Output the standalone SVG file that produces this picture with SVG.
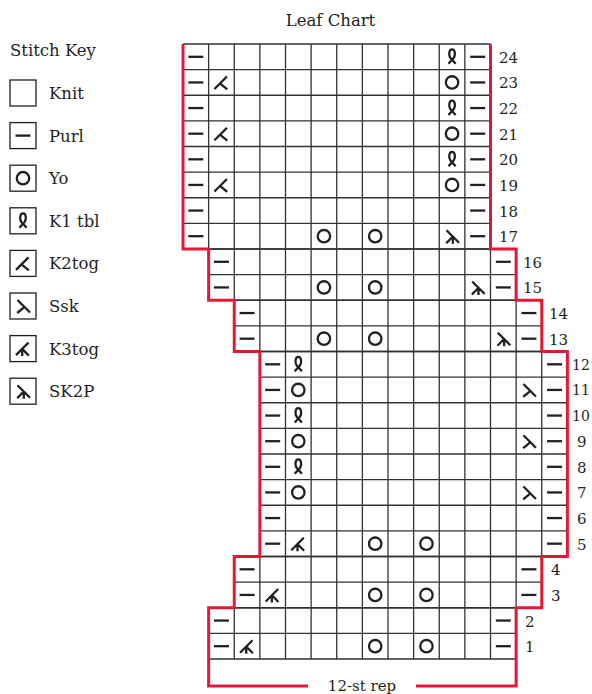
<svg xmlns="http://www.w3.org/2000/svg" xmlns:xlink="http://www.w3.org/1999/xlink" width="592" height="694" viewBox="0 0 592 694">
<style>
.t{font-family:"DejaVu Serif","Liberation Serif",serif;fill:#231f20}
.key{font-size:16.5px}
.num{font-size:15px}
.nsm{font-size:14px}
.grid{fill:none;stroke:#333;stroke-width:1.3}
.red{fill:none;stroke:#e31837;stroke-width:3}
.sym{fill:none;stroke:#231f20;stroke-width:2.3}
.box{fill:#fff;stroke:#231f20;stroke-width:1.3}
</style>
<defs>
<path id="purl" class="sym" d="M-7.5 0H7.5" stroke-width="2.7"/>
<circle id="yo" class="sym" r="6.2" stroke-width="2.4"/>
<path id="tbl" class="sym" stroke-width="2" d="M-3.6 7L1.6 1.2C3.6 -1.5 3.2 -7.5 0 -7.5C-3.2 -7.5 -3.6 -1.5 -1.6 1.2L3.6 7"/>
<path id="k2tog" class="sym" d="M-7 6.5L5.5 -6M-1.2 1.2L5.8 7"/>
<path id="ssk" class="sym" d="M7 6.5L-5.5 -6M1.2 1.2L-5.8 7"/>
<path id="k3tog" class="sym" d="M-7 6.5L5.5 -6M-0.8 0.3L5.8 7M-0.8 0.3V7.5"/>
<path id="sk2p" class="sym" d="M7 6.5L-5.5 -6M0.8 0.3L-5.8 7M0.8 0.3V7.5"/>
</defs>

<text class="t key" x="330.5" y="26" text-anchor="middle">Leaf Chart</text>

<g id="key">
<text class="t key" x="10" y="56">Stitch Key</text>
<g id="key-knit"><rect class="box" x="10" y="80" width="26" height="26"/><text class="t key" x="49" y="99">Knit</text></g>
<g id="key-purl"><rect class="box" x="10" y="122.6" width="26" height="26"/><use xlink:href="#purl" x="23" y="135.6"/><text class="t key" x="49" y="141.6">Purl</text></g>
<g id="key-yo"><rect class="box" x="10" y="165.2" width="26" height="26"/><use xlink:href="#yo" x="23" y="178.2"/><text class="t key" x="49" y="184.2">Yo</text></g>
<g id="key-tbl"><rect class="box" x="10" y="207.8" width="26" height="26"/><use xlink:href="#tbl" x="23" y="220.8"/><text class="t key" x="49" y="226.8">K1 tbl</text></g>
<g id="key-k2tog"><rect class="box" x="10" y="250.4" width="26" height="26"/><use xlink:href="#k2tog" x="23" y="263.4"/><text class="t key" x="49" y="269.4">K2tog</text></g>
<g id="key-ssk"><rect class="box" x="10" y="293" width="26" height="26"/><use xlink:href="#ssk" x="23" y="306"/><text class="t key" x="49" y="312">Ssk</text></g>
<g id="key-k3tog"><rect class="box" x="10" y="335.6" width="26" height="26"/><use xlink:href="#k3tog" x="23" y="348.6"/><text class="t key" x="49" y="354.6">K3tog</text></g>
<g id="key-sk2p"><rect class="box" x="10" y="378.2" width="26" height="26"/><use xlink:href="#sk2p" x="23" y="391.2"/><text class="t key" x="49" y="397.2">SK2P</text></g>
</g>

<g id="grid">
<path class="grid" d="M183 44v205m25.625-205v205m25.625-205v205m25.625-205v205m25.625-205v205m25.625-205v205m25.625-205v205m25.625-205v205m25.625-205v205m25.625-205v205m25.625-205v205m25.625-205v205m25.625-205v205
M183 44h307.5m-307.5 25.625h307.5m-307.5 25.625h307.5m-307.5 25.625h307.5m-307.5 25.625h307.5m-307.5 25.625h307.5m-307.5 25.625h307.5m-307.5 25.625h307.5m-307.5 25.625h307.5"/>
<path class="grid" d="M208.625 249v51.25m25.625-51.25v51.25m25.625-51.25v51.25m25.625-51.25v51.25m25.625-51.25v51.25m25.625-51.25v51.25m25.625-51.25v51.25m25.625-51.25v51.25m25.625-51.25v51.25m25.625-51.25v51.25m25.625-51.25v51.25m25.625-51.25v51.25m25.625-51.25v51.25
M208.625 249h307.5m-307.5 25.625h307.5m-307.5 25.625h307.5"/>
<path class="grid" d="M234.25 300.25v51.25m25.625-51.25v51.25m25.625-51.25v51.25m25.625-51.25v51.25m25.625-51.25v51.25m25.625-51.25v51.25m25.625-51.25v51.25m25.625-51.25v51.25m25.625-51.25v51.25m25.625-51.25v51.25m25.625-51.25v51.25m25.625-51.25v51.25m25.625-51.25v51.25
M234.25 300.25h307.5m-307.5 25.625h307.5m-307.5 25.625h307.5"/>
<path class="grid" d="M259.875 351.5v205m25.625-205v205m25.625-205v205m25.625-205v205m25.625-205v205m25.625-205v205m25.625-205v205m25.625-205v205m25.625-205v205m25.625-205v205m25.625-205v205m25.625-205v205m25.625-205v205
M259.875 351.5h307.5m-307.5 25.625h307.5m-307.5 25.625h307.5m-307.5 25.625h307.5m-307.5 25.625h307.5m-307.5 25.625h307.5m-307.5 25.625h307.5m-307.5 25.625h307.5m-307.5 25.625h307.5"/>
<path class="grid" d="M234.25 556.5v51.25m25.625-51.25v51.25m25.625-51.25v51.25m25.625-51.25v51.25m25.625-51.25v51.25m25.625-51.25v51.25m25.625-51.25v51.25m25.625-51.25v51.25m25.625-51.25v51.25m25.625-51.25v51.25m25.625-51.25v51.25m25.625-51.25v51.25m25.625-51.25v51.25
M234.25 556.5h307.5m-307.5 25.625h307.5m-307.5 25.625h307.5"/>
<path class="grid" d="M208.625 607.75v51.25m25.625-51.25v51.25m25.625-51.25v51.25m25.625-51.25v51.25m25.625-51.25v51.25m25.625-51.25v51.25m25.625-51.25v51.25m25.625-51.25v51.25m25.625-51.25v51.25m25.625-51.25v51.25m25.625-51.25v51.25m25.625-51.25v51.25m25.625-51.25v51.25
M208.625 607.75h307.5m-307.5 25.625h307.5m-307.5 25.625h307.5"/>
</g>

<g id="stitches">
<use xlink:href="#purl" x="195.81" y="56.81"/><use xlink:href="#tbl" x="452.06" y="56.81"/><use xlink:href="#purl" x="477.69" y="56.81"/>
<use xlink:href="#purl" x="195.81" y="82.44"/><use xlink:href="#k2tog" x="221.44" y="82.44"/><use xlink:href="#yo" x="452.06" y="82.44"/><use xlink:href="#purl" x="477.69" y="82.44"/>
<use xlink:href="#purl" x="195.81" y="108.06"/><use xlink:href="#tbl" x="452.06" y="108.06"/><use xlink:href="#purl" x="477.69" y="108.06"/>
<use xlink:href="#purl" x="195.81" y="133.69"/><use xlink:href="#k2tog" x="221.44" y="133.69"/><use xlink:href="#yo" x="452.06" y="133.69"/><use xlink:href="#purl" x="477.69" y="133.69"/>
<use xlink:href="#purl" x="195.81" y="159.31"/><use xlink:href="#tbl" x="452.06" y="159.31"/><use xlink:href="#purl" x="477.69" y="159.31"/>
<use xlink:href="#purl" x="195.81" y="184.94"/><use xlink:href="#k2tog" x="221.44" y="184.94"/><use xlink:href="#yo" x="452.06" y="184.94"/><use xlink:href="#purl" x="477.69" y="184.94"/>
<use xlink:href="#purl" x="195.81" y="210.56"/><use xlink:href="#purl" x="477.69" y="210.56"/>
<use xlink:href="#purl" x="195.81" y="236.19"/><use xlink:href="#yo" x="323.94" y="236.19"/><use xlink:href="#yo" x="375.19" y="236.19"/><use xlink:href="#sk2p" x="452.06" y="236.19"/><use xlink:href="#purl" x="477.69" y="236.19"/>
<use xlink:href="#purl" x="221.44" y="261.81"/><use xlink:href="#purl" x="503.31" y="261.81"/>
<use xlink:href="#purl" x="221.44" y="287.44"/><use xlink:href="#yo" x="323.94" y="287.44"/><use xlink:href="#yo" x="375.19" y="287.44"/><use xlink:href="#sk2p" x="477.69" y="287.44"/><use xlink:href="#purl" x="503.31" y="287.44"/>
<use xlink:href="#purl" x="247.06" y="313.06"/><use xlink:href="#purl" x="528.94" y="313.06"/>
<use xlink:href="#purl" x="247.06" y="338.69"/><use xlink:href="#yo" x="323.94" y="338.69"/><use xlink:href="#yo" x="375.19" y="338.69"/><use xlink:href="#sk2p" x="503.31" y="338.69"/><use xlink:href="#purl" x="528.94" y="338.69"/>
<use xlink:href="#purl" x="272.69" y="364.31"/><use xlink:href="#tbl" x="298.31" y="364.31"/><use xlink:href="#purl" x="554.56" y="364.31"/>
<use xlink:href="#purl" x="272.69" y="389.94"/><use xlink:href="#yo" x="298.31" y="389.94"/><use xlink:href="#ssk" x="528.94" y="389.94"/><use xlink:href="#purl" x="554.56" y="389.94"/>
<use xlink:href="#purl" x="272.69" y="415.56"/><use xlink:href="#tbl" x="298.31" y="415.56"/><use xlink:href="#purl" x="554.56" y="415.56"/>
<use xlink:href="#purl" x="272.69" y="441.19"/><use xlink:href="#yo" x="298.31" y="441.19"/><use xlink:href="#ssk" x="528.94" y="441.19"/><use xlink:href="#purl" x="554.56" y="441.19"/>
<use xlink:href="#purl" x="272.69" y="466.81"/><use xlink:href="#tbl" x="298.31" y="466.81"/><use xlink:href="#purl" x="554.56" y="466.81"/>
<use xlink:href="#purl" x="272.69" y="492.44"/><use xlink:href="#yo" x="298.31" y="492.44"/><use xlink:href="#ssk" x="528.94" y="492.44"/><use xlink:href="#purl" x="554.56" y="492.44"/>
<use xlink:href="#purl" x="272.69" y="518.06"/><use xlink:href="#purl" x="554.56" y="518.06"/>
<use xlink:href="#purl" x="272.69" y="543.69"/><use xlink:href="#k3tog" x="298.31" y="543.69"/><use xlink:href="#yo" x="375.19" y="543.69"/><use xlink:href="#yo" x="426.44" y="543.69"/><use xlink:href="#purl" x="554.56" y="543.69"/>
<use xlink:href="#purl" x="247.06" y="569.31"/><use xlink:href="#purl" x="528.94" y="569.31"/>
<use xlink:href="#purl" x="247.06" y="594.94"/><use xlink:href="#k3tog" x="272.69" y="594.94"/><use xlink:href="#yo" x="375.19" y="594.94"/><use xlink:href="#yo" x="426.44" y="594.94"/><use xlink:href="#purl" x="528.94" y="594.94"/>
<use xlink:href="#purl" x="221.44" y="620.56"/><use xlink:href="#purl" x="503.31" y="620.56"/>
<use xlink:href="#purl" x="221.44" y="646.19"/><use xlink:href="#k3tog" x="247.06" y="646.19"/><use xlink:href="#yo" x="375.19" y="646.19"/><use xlink:href="#yo" x="426.44" y="646.19"/><use xlink:href="#purl" x="503.31" y="646.19"/>
</g>

<g id="outline">
<path class="red" d="M183 44V249H208.625V300.25H234.25V351.5H259.875V556.5H234.25V607.75H208.625V686H308"/>
<path class="red" d="M416 686H516.125V607.75H541.75V556.5H567.375V351.5H541.75V300.25H516.125V249H490.5V44"/>
</g>
<text class="t num" x="362" y="691" text-anchor="middle">12-st rep</text>

<g id="row-numbers" class="t num">
<text x="499" y="62.8">24</text>
<text x="499" y="88.4">23</text>
<text x="499" y="114.1">22</text>
<text x="499" y="139.7">21</text>
<text x="499" y="165.3">20</text>
<text x="499" y="190.9">19</text>
<text x="499" y="216.6">18</text>
<text x="499" y="242.2">17</text>
<text x="523" y="267.8">16</text>
<text x="523" y="293.4">15</text>
<text x="549" y="319.1">14</text>
<text x="549" y="344.7">13</text>
<text class="nsm" x="572" y="369.8">12</text>
<text class="nsm" x="572" y="395.4">11</text>
<text class="nsm" x="572" y="421.1">10</text>
<text x="577" y="447.2">9</text>
<text x="577" y="472.8">8</text>
<text x="577" y="498.4">7</text>
<text x="577" y="524.1">6</text>
<text x="577" y="549.7">5</text>
<text x="551" y="575.3">4</text>
<text x="551" y="600.9">3</text>
<text x="525" y="626.6">2</text>
<text x="525" y="652.2">1</text>
</g>
</svg>
